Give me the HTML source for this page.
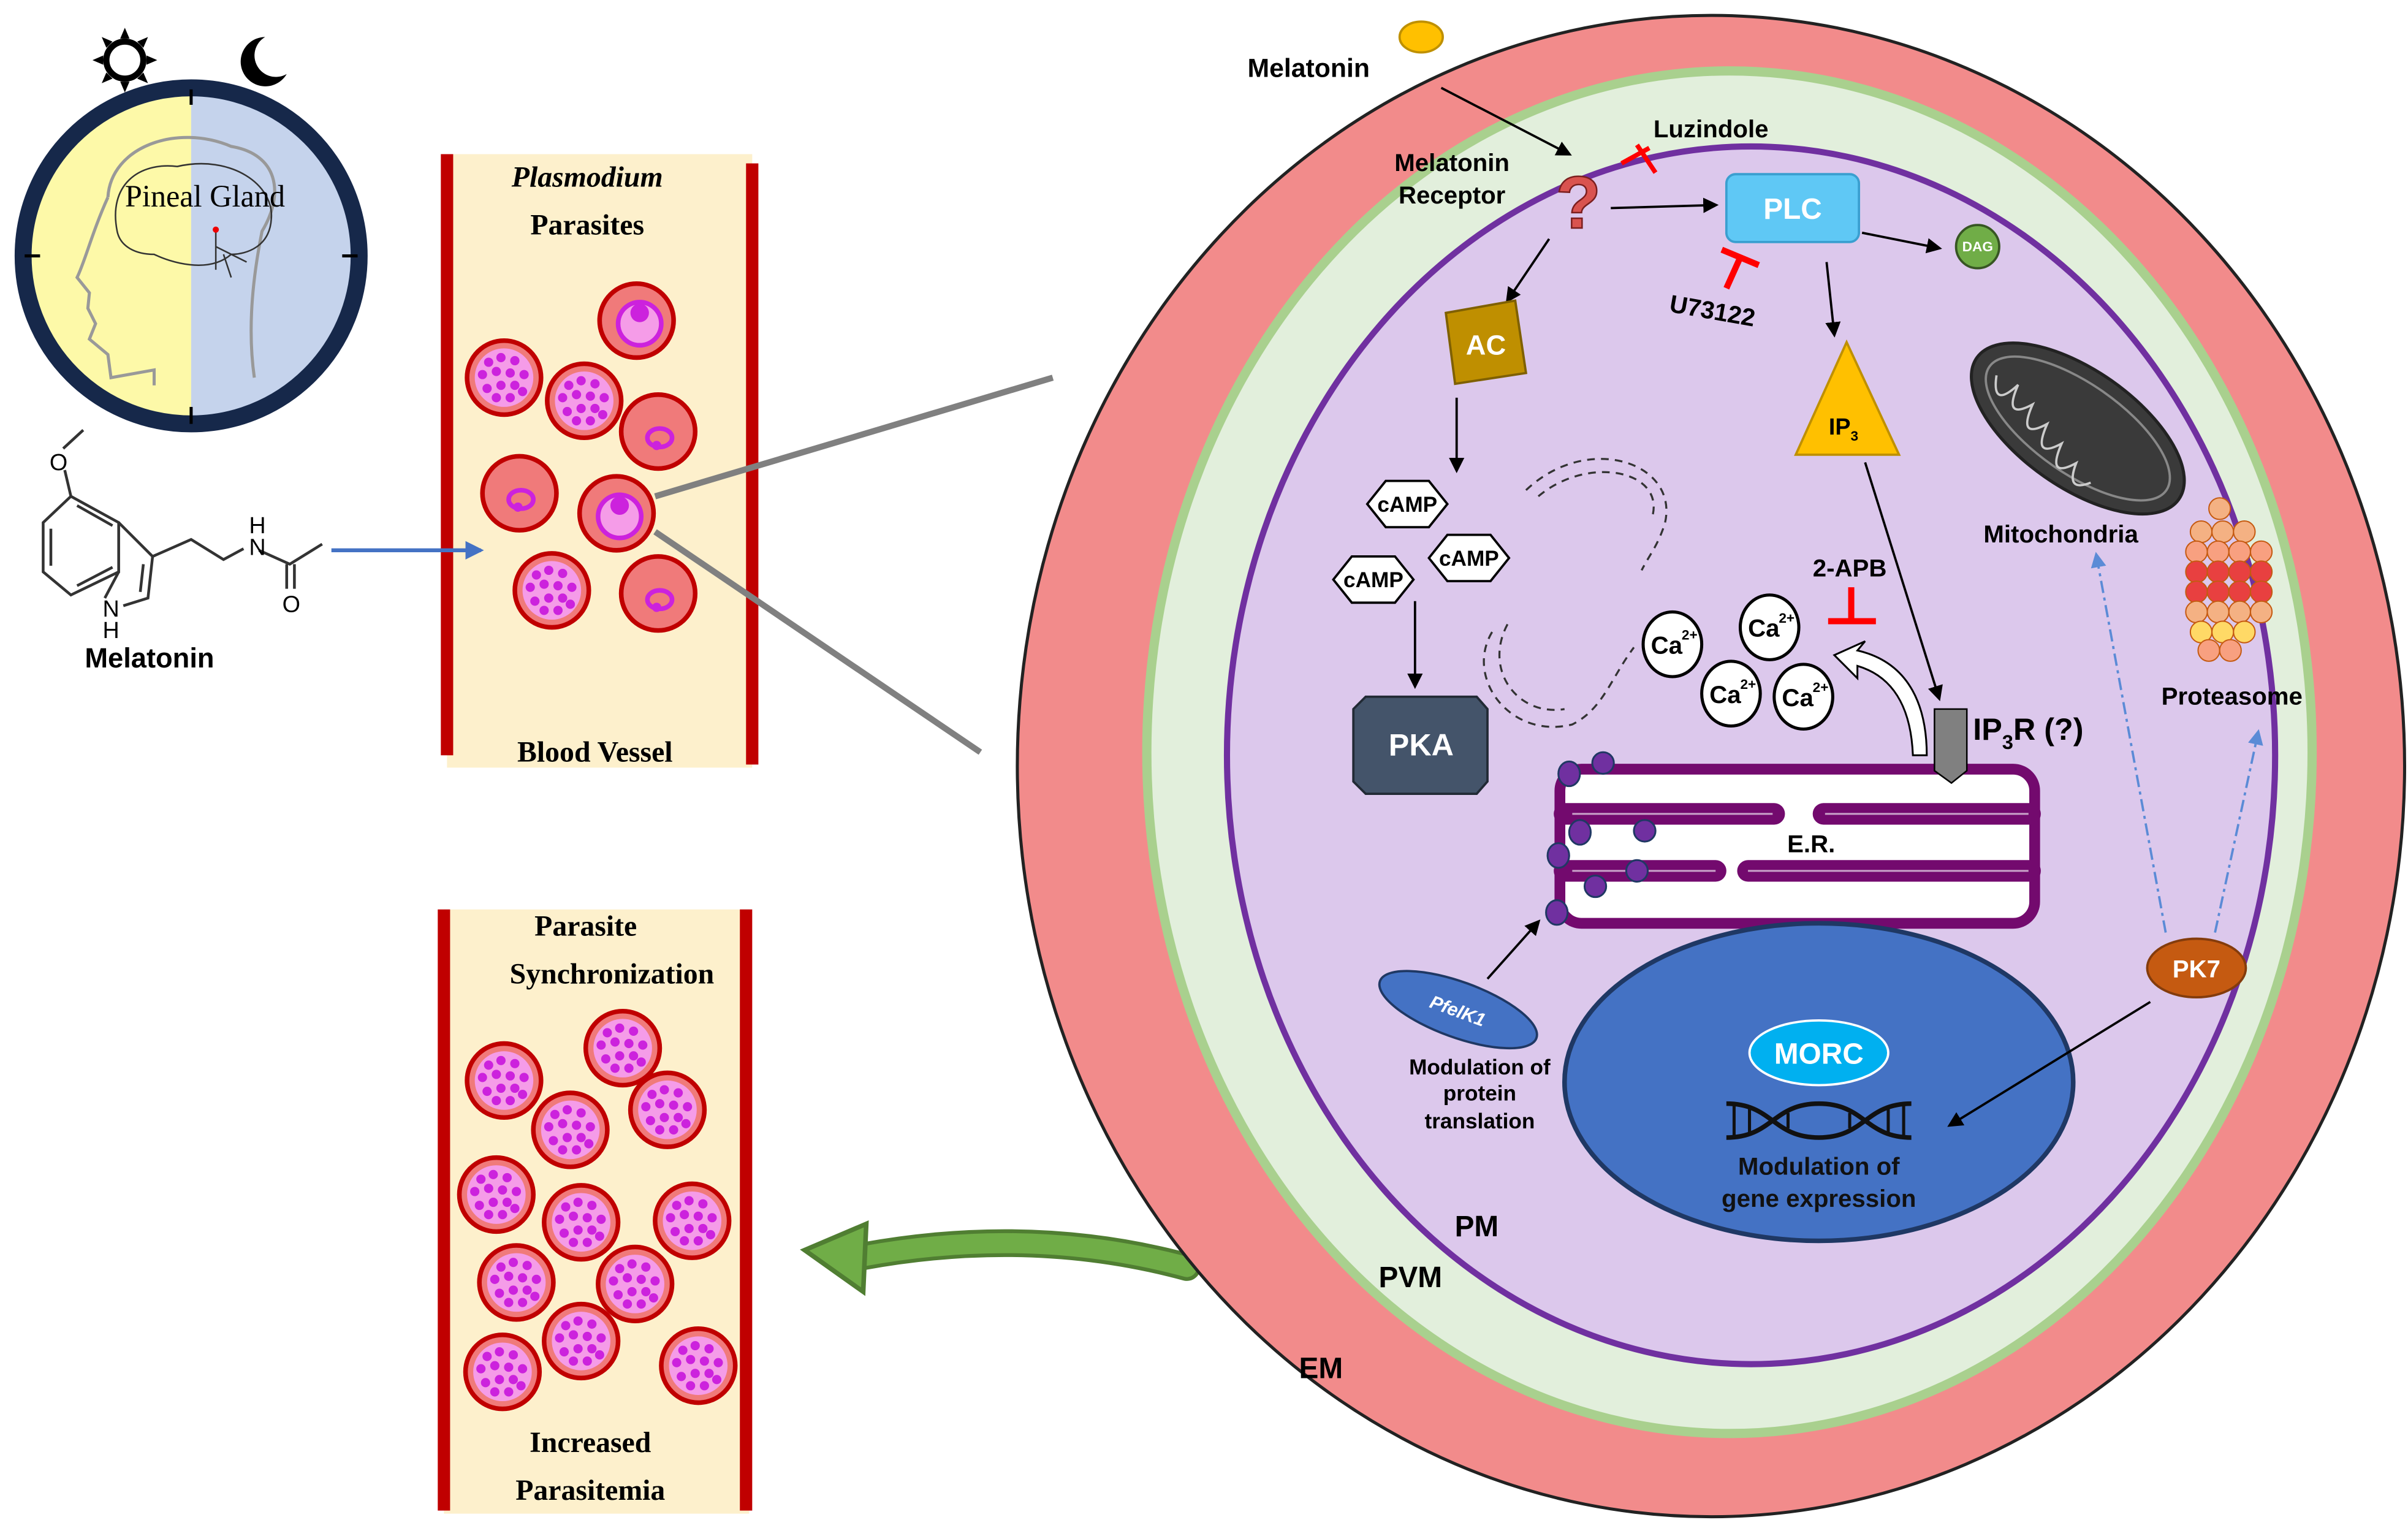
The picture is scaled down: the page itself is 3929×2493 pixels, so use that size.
<!DOCTYPE html>
<html><head><meta charset="utf-8"><style>
html,body{margin:0;padding:0;background:#fff}
svg{display:block}
text{font-family:"Liberation Sans",sans-serif}
text.s{font-family:"Liberation Serif",serif;font-weight:bold}
text.sr{font-family:"Liberation Serif",serif}
.b{font-weight:bold}
</style></head><body>
<svg width="3929" height="2493" viewBox="0 0 1562.2 991.3" preserveAspectRatio="none" xmlns="http://www.w3.org/2000/svg">
<defs>
<marker id="ar" markerWidth="10" markerHeight="10" refX="8" refY="5" orient="auto" markerUnits="userSpaceOnUse"><path d="M0,0 L10,5 L0,10 z" fill="#000"/></marker>
<marker id="ab" markerWidth="12" markerHeight="12" refX="10" refY="6" orient="auto" markerUnits="userSpaceOnUse"><path d="M0,0 L12,6 L0,12 z" fill="#4472c4"/></marker>
<marker id="ad" markerWidth="10" markerHeight="10" refX="8" refY="5" orient="auto" markerUnits="userSpaceOnUse"><path d="M0,0 L10,5 L0,10 z" fill="#5b8bd6"/></marker>
<g id="rd"><circle r="24" fill="#f07a7a" stroke="#c00000" stroke-width="3"/><circle r="19" fill="#f59ce8"/>
<g fill="#cc22dd"><circle cx="-10" cy="-10" r="3"/><circle cx="-2" cy="-13" r="3"/><circle cx="7" cy="-11" r="3"/><circle cx="-14" cy="-2" r="3"/><circle cx="-5" cy="-4" r="3"/><circle cx="4" cy="-3" r="3"/><circle cx="13" cy="-2" r="3"/><circle cx="-11" cy="7" r="3"/><circle cx="-2" cy="5" r="3"/><circle cx="7" cy="5" r="3"/><circle cx="-5" cy="13" r="3"/><circle cx="4" cy="13" r="3"/><circle cx="12" cy="9" r="3"/></g></g>
<g id="rb"><circle r="24" fill="#f07a7a" stroke="#c00000" stroke-width="3"/><circle cx="2" cy="2" r="14" fill="#f59ce8" stroke="#cc22dd" stroke-width="3"/><circle cx="2" cy="-5" r="6" fill="#cc22dd"/></g>
<g id="rs"><circle r="24" fill="#f07a7a" stroke="#c00000" stroke-width="3"/><ellipse cx="1" cy="4" rx="8" ry="6" fill="none" stroke="#cc22dd" stroke-width="3"/><circle cx="-1" cy="9" r="3" fill="#cc22dd"/></g>
<g id="ca"><ellipse rx="19" ry="21" fill="#fff" stroke="#000" stroke-width="2"/><text x="-14" y="6" font-size="16" class="b">Ca</text><text x="6" y="-3" font-size="9" class="b">2+</text></g>
<g id="camp"><polygon points="-26,0 -14,-15 14,-15 26,0 14,15 -14,15" fill="#fff" stroke="#000" stroke-width="1.5"/><text x="0" y="5" font-size="14" text-anchor="middle" class="b">cAMP</text></g>
</defs>

<!-- clock -->
<path d="M124,57 A109,109 0 0 0 124,275 z" fill="#fdf9a8"/>
<path d="M124,57 A109,109 0 0 1 124,275 z" fill="#c5d3ec"/>
<circle cx="124" cy="166" r="109" fill="none" stroke="#16284a" stroke-width="11"/>
<g stroke="#000" stroke-width="2"><line x1="124" y1="58" x2="124" y2="68"/><line x1="124" y1="264" x2="124" y2="275"/><line x1="16" y1="166" x2="26" y2="166"/><line x1="222" y1="166" x2="232" y2="166"/></g>
<path d="M70,128 C72,95 115,80 150,95 C180,100 185,125 170,150 C165,175 160,210 165,245" fill="none" stroke="#999" stroke-width="2"/>
<path d="M70,128 C60,150 55,170 50,180 L58,190 L57,200 L62,210 L58,220 L70,230 L72,245 L100,240 L100,250" fill="none" stroke="#999" stroke-width="2"/>
<path d="M76,150 C70,120 90,105 115,108 C150,100 178,120 176,142 C175,160 160,165 150,165 C135,178 110,170 100,165 C88,165 78,160 76,150 z" fill="none" stroke="#333" stroke-width="1"/>
<path d="M140,160 L160,170 M145,165 L150,180 M140,150 L140,175" stroke="#333" stroke-width="1"/>
<circle cx="140" cy="149" r="2" fill="#e00"/>
<text x="133" y="134" font-size="20" text-anchor="middle" class="sr">Pineal Gland</text>
<g transform="translate(81,39)"><circle r="12" fill="#fff" stroke="#000" stroke-width="4"/>
<g fill="#000"><polygon points="-3,-14 3,-14 0,-21"/><polygon points="-3,14 3,14 0,21"/><polygon points="-14,-3 -14,3 -21,0"/><polygon points="14,-3 14,3 21,0"/><polygon points="8,-12 12,-8 15,-15"/><polygon points="-8,-12 -12,-8 -15,-15"/><polygon points="8,12 12,8 15,15"/><polygon points="-8,12 -12,8 -15,15"/></g></g>
<path d="M172,24 A16,16 0 1 0 186,48 A13,13 0 1 1 172,24 z" fill="#000"/>

<!-- melatonin structure -->
<g stroke="#333" stroke-width="1.8" fill="none">
<path d="M54,279 L41,291"/><path d="M42,305 L46,322"/>
<polygon points="46,322 77,339 77,371 46,386 28,371 28,339"/>
<path d="M33,343 L33,367 M50,328 L73,341 M50,380 L73,368"/>
<path d="M77,339 L99,361 L96,388 L80,393 M68,388 L77,371 M93,366 L91,384"/>
<path d="M99,361 L124,350 L145,363 L158,356 M168,357 L188,366 L209,353 M186,366 L186,382 M191,366 L191,382"/>
</g>
<text x="38" y="305" font-size="15" text-anchor="middle">O</text>
<text x="72" y="400" font-size="15" text-anchor="middle">N</text>
<text x="72" y="414" font-size="15" text-anchor="middle">H</text>
<text x="167" y="360" font-size="15" text-anchor="middle">N</text>
<text x="167" y="346" font-size="15" text-anchor="middle">H</text>
<text x="189" y="397" font-size="15" text-anchor="middle">O</text>
<text x="97" y="433" font-size="18" class="b" text-anchor="middle">Melatonin</text>

<!-- top vessel -->
<rect x="290" y="100" width="198" height="398" fill="#fdf0cc"/>
<rect x="286" y="100" width="8" height="390" fill="#c00000"/>
<rect x="484" y="106" width="8" height="390" fill="#c00000"/>
<text x="381" y="121" font-size="19" class="s" font-style="italic" text-anchor="middle">Plasmodium</text>
<text x="381" y="152" font-size="19" class="s" text-anchor="middle">Parasites</text>
<text x="386" y="494" font-size="19" class="s" text-anchor="middle">Blood Vessel</text>
<use href="#rb" x="413" y="208"/><use href="#rd" x="327" y="245"/><use href="#rd" x="379" y="260"/>
<use href="#rs" x="427" y="280"/><use href="#rs" x="337" y="320"/><use href="#rb" x="400" y="333"/>
<use href="#rd" x="358" y="383"/><use href="#rs" x="427" y="385"/>
<line x1="215" y1="357" x2="312" y2="357" stroke="#4472c4" stroke-width="2.5" marker-end="url(#ab)"/>
<line x1="425" y1="322" x2="683" y2="245" stroke="#808080" stroke-width="4"/>
<line x1="425" y1="345" x2="636" y2="488" stroke="#808080" stroke-width="4"/>

<!-- bottom vessel -->
<rect x="288" y="590" width="198" height="392" fill="#fdf0cc"/>
<rect x="284" y="590" width="8" height="390" fill="#c00000"/>
<rect x="480" y="590" width="8" height="390" fill="#c00000"/>
<text x="380" y="607" font-size="19" class="s" text-anchor="middle">Parasite</text>
<text x="397" y="638" font-size="19" class="s" text-anchor="middle">Synchronization</text>
<text x="383" y="942" font-size="19" class="s" text-anchor="middle">Increased</text>
<text x="383" y="973" font-size="19" class="s" text-anchor="middle">Parasitemia</text>
<use href="#rd" x="404" y="680"/><use href="#rd" x="327" y="701"/><use href="#rd" x="433" y="720"/><use href="#rd" x="370" y="733"/>
<use href="#rd" x="322" y="775"/><use href="#rd" x="377" y="793"/><use href="#rd" x="449" y="792"/><use href="#rd" x="335" y="832"/>
<use href="#rd" x="412" y="833"/><use href="#rd" x="377" y="870"/><use href="#rd" x="326" y="890"/><use href="#rd" x="453" y="886"/>

<!-- green arrow -->
<path d="M770,822 Q670,795 560,815" fill="none" stroke="#507e32" stroke-width="18" stroke-linecap="round"/>
<path d="M770,822 Q670,795 560,815" fill="none" stroke="#70ad47" stroke-width="13" stroke-linecap="round"/>
<polygon points="522,811 562,794 560,838" fill="#70ad47" stroke="#507e32" stroke-width="3"/>

<!-- cell -->
<ellipse cx="1110" cy="497" rx="450" ry="487" fill="#f28b8b" stroke="#222" stroke-width="2"/>
<ellipse cx="1122" cy="488" rx="378" ry="442" fill="#e2efdc" stroke="#a9d08e" stroke-width="6"/>
<ellipse cx="1136" cy="490" rx="340" ry="395" fill="#dcc8ec" stroke="#7030a0" stroke-width="4"/>
<text x="857" y="894" font-size="19" class="b" text-anchor="middle">EM</text>
<text x="915" y="835" font-size="19" class="b" text-anchor="middle">PVM</text>
<text x="958" y="802" font-size="19" class="b" text-anchor="middle">PM</text>

<!-- top signaling -->
<ellipse cx="922" cy="24" rx="14" ry="10" fill="#ffc000" stroke="#bf9000" stroke-width="1.5"/>
<text x="849" y="50" font-size="17" class="b" text-anchor="middle">Melatonin</text>
<line x1="935" y1="57" x2="1018" y2="100" stroke="#000" stroke-width="1.5" marker-end="url(#ar)"/>
<text x="1110" y="89" font-size="16" class="b" text-anchor="middle">Luzindole</text>
<path d="M1070,96 L1052,106 M1062,94 L1074,112" stroke="#f00" stroke-width="3"/>
<text x="942" y="111" font-size="16" class="b" text-anchor="middle">Melatonin</text>
<text x="942" y="132" font-size="16" class="b" text-anchor="middle">Receptor</text>
<text x="1024" y="148" font-size="48" class="b" text-anchor="middle" fill="#d9534f" stroke="#7b1f1f" stroke-width="1">?</text>
<line x1="1045" y1="135" x2="1113" y2="133" stroke="#000" stroke-width="1.5" marker-end="url(#ar)"/>
<rect x="1120" y="113" width="86" height="44" rx="6" fill="#5fc8f5" stroke="#3a9fd0" stroke-width="1.5"/>
<text x="1163" y="142" font-size="19" class="b" fill="#fff" text-anchor="middle">PLC</text>
<line x1="1208" y1="151" x2="1258" y2="161" stroke="#000" stroke-width="1.5" marker-end="url(#ar)"/>
<circle cx="1283" cy="160" r="14" fill="#70ad47" stroke="#375623" stroke-width="1.5"/>
<text x="1283" y="163" font-size="9" class="b" fill="#fff" text-anchor="middle">DAG</text>
<path d="M1117,162 L1141,172 M1129,167 L1120,187" stroke="#f00" stroke-width="4"/>
<text x="1110" y="207" font-size="16" class="b" text-anchor="middle" transform="rotate(10 1110 207)">U73122</text>
<line x1="1185" y1="170" x2="1190" y2="217" stroke="#000" stroke-width="1.5" marker-end="url(#ar)"/>
<polygon points="1198,222 1232,295 1165,295" fill="#ffc000" stroke="#bf9000" stroke-width="1.5"/>
<text x="1196" y="282" font-size="15" class="b" text-anchor="middle">IP<tspan font-size="9" dy="4">3</tspan></text>
<line x1="1005" y1="155" x2="978" y2="195" stroke="#000" stroke-width="1.5" marker-end="url(#ar)"/>
<polygon points="938,203 983,195 990,242 944,249" fill="#bf8f00" stroke="#7f6000" stroke-width="1.5"/>
<text x="964" y="230" font-size="18" class="b" fill="#fff" text-anchor="middle">AC</text>
<line x1="945" y1="258" x2="945" y2="305" stroke="#000" stroke-width="1.5" marker-end="url(#ar)"/>
<use href="#camp" x="913" y="327"/><use href="#camp" x="953" y="362"/><use href="#camp" x="891" y="376"/>
<line x1="918" y1="390" x2="918" y2="445" stroke="#000" stroke-width="1.5" marker-end="url(#ar)"/>
<polygon points="886,452 958,452 965,460 965,507 958,515 886,515 878,507 878,460" fill="#44546a" stroke="#222a35" stroke-width="1.5"/>
<text x="922" y="490" font-size="20" class="b" fill="#fff" text-anchor="middle">PKA</text>

<!-- dashed curves -->
<g fill="none" stroke="#333" stroke-width="1.3" stroke-dasharray="5,4">
<path d="M990,318 C1030,280 1090,300 1080,340 C1075,355 1070,360 1065,370"/>
<path d="M998,322 C1030,295 1080,305 1072,335"/>
<path d="M968,410 C950,440 980,480 1020,470 C1040,460 1045,440 1060,420"/>
<path d="M978,405 C962,435 985,465 1015,460"/>
</g>

<!-- Ca -->
<use href="#ca" x="1085" y="418"/><use href="#ca" x="1148" y="407"/><use href="#ca" x="1123" y="450"/><use href="#ca" x="1170" y="452"/>
<text x="1200" y="374" font-size="16" class="b" text-anchor="middle">2-APB</text>
<path d="M1201,381 L1201,403 M1186,403 L1217,403" stroke="#f00" stroke-width="4"/>
<path d="M1250,490 C1250,460 1240,430 1205,422 L1210,416 L1190,425 L1205,440 L1205,432 C1232,440 1240,465 1241,490 z" fill="#fff" stroke="#000" stroke-width="1.2"/>
<line x1="1210" y1="300" x2="1258" y2="453" stroke="#000" stroke-width="1.5" marker-end="url(#ar)"/>

<!-- ER -->
<rect x="1012" y="499" width="308" height="100" rx="14" fill="#fff" stroke="#730a6e" stroke-width="7"/>
<g fill="#730a6e">
<rect x="1008" y="521" width="150" height="14" rx="7"/>
<rect x="1176" y="521" width="148" height="14" rx="7"/>
<rect x="1008" y="558" width="112" height="14" rx="7"/>
<rect x="1127" y="558" width="197" height="14" rx="7"/>
</g>
<g stroke="#c9a3c9" stroke-width="1.2"><line x1="1020" y1="528" x2="1150" y2="528"/><line x1="1184" y1="528" x2="1316" y2="528"/><line x1="1020" y1="565" x2="1113" y2="565"/><line x1="1134" y1="565" x2="1316" y2="565"/></g>
<text x="1175" y="553" font-size="16" class="b" text-anchor="middle">E.R.</text>
<g fill="#7030a0" stroke="#203864" stroke-width="1.2">
<ellipse cx="1018" cy="502" rx="7" ry="8"/><ellipse cx="1040" cy="495" rx="7" ry="7"/><ellipse cx="1025" cy="540" rx="7" ry="8"/><ellipse cx="1067" cy="539" rx="7" ry="7"/>
<ellipse cx="1011" cy="555" rx="7" ry="8"/><ellipse cx="1062" cy="565" rx="7" ry="7"/><ellipse cx="1035" cy="575" rx="7" ry="7"/><ellipse cx="1010" cy="592" rx="7" ry="8"/></g>
<polygon points="1255,460 1276,460 1276,500 1266,508 1255,500" fill="#808080" stroke="#000" stroke-width="1"/>
<text x="1280" y="480" font-size="20" class="b">IP<tspan font-size="13" dy="6">3</tspan><tspan dy="-6">R (?)</tspan></text>

<!-- nucleus -->
<ellipse cx="1180" cy="702" rx="165" ry="103" fill="#4472c4" stroke="#1f3864" stroke-width="3"/>
<ellipse cx="1180" cy="683" rx="45" ry="21" fill="#00b0f0" stroke="#fff" stroke-width="1.5"/>
<text x="1180" y="690" font-size="19" class="b" fill="#fff" text-anchor="middle">MORC</text>
<g stroke="#111" stroke-width="3" fill="none">
<path d="M1120,716 C1150,716 1150,738 1180,738 C1210,738 1210,716 1240,716"/>
<path d="M1120,738 C1150,738 1150,716 1180,716 C1210,716 1210,738 1240,738"/>
<path d="M1125,716 L1125,738 M1135,718 L1135,736 M1160,722 L1160,732 M1200,722 L1200,732 M1225,718 L1225,736 M1235,716 L1235,738" stroke-width="2"/></g>
<text x="1180" y="762" font-size="16" class="b" fill="#111" text-anchor="middle">Modulation of</text>
<text x="1180" y="783" font-size="16" class="b" fill="#111" text-anchor="middle">gene expression</text>

<!-- PfelK1 -->
<ellipse cx="946" cy="655" rx="54" ry="18" transform="rotate(20 946 655)" fill="#4472c4" stroke="#1f3864" stroke-width="1.5"/>
<text x="946" y="660" font-size="12" class="b" fill="#fff" text-anchor="middle" font-style="italic" transform="rotate(20 946 655)">PfelK1</text>
<line x1="965" y1="635" x2="998" y2="598" stroke="#000" stroke-width="1.5" marker-end="url(#ar)"/>
<text x="960" y="697" font-size="14" class="b" text-anchor="middle">Modulation of</text>
<text x="960" y="714" font-size="14" class="b" text-anchor="middle">protein</text>
<text x="960" y="732" font-size="14" class="b" text-anchor="middle">translation</text>

<!-- mitochondria -->
<ellipse cx="1348" cy="278" rx="80" ry="38" transform="rotate(35 1348 278)" fill="#3a3a3a" stroke="#222" stroke-width="2"/>
<ellipse cx="1348" cy="278" rx="70" ry="29" transform="rotate(35 1348 278)" fill="none" stroke="#888" stroke-width="1.5"/>
<path d="M1300,240 q10,20 15,-3 q5,25 15,5 q5,25 15,5 q5,25 15,5 q5,25 15,5 q5,20 15,5" fill="none" stroke="#ccc" stroke-width="1.5" transform="rotate(35 1348 278) translate(-15,40)"/>
<text x="1337" y="352" font-size="16" class="b" text-anchor="middle">Mitochondria</text>
<!-- proteasome -->
<g stroke="#c55a11" stroke-width="0.8">
<g fill="#f4b183"><circle cx="1440" cy="330" r="7"/><circle cx="1428" cy="345" r="7"/><circle cx="1442" cy="345" r="7"/><circle cx="1456" cy="345" r="7"/></g>
<g fill="#f8a080"><circle cx="1425" cy="358" r="7"/><circle cx="1439" cy="358" r="7"/><circle cx="1453" cy="358" r="7"/><circle cx="1467" cy="358" r="7"/></g>
<g fill="#e84040"><circle cx="1425" cy="371" r="7"/><circle cx="1439" cy="371" r="7"/><circle cx="1453" cy="371" r="7"/><circle cx="1467" cy="371" r="7"/><circle cx="1425" cy="384" r="7"/><circle cx="1439" cy="384" r="7"/><circle cx="1453" cy="384" r="7"/><circle cx="1467" cy="384" r="7"/></g>
<g fill="#f4b183"><circle cx="1425" cy="397" r="7"/><circle cx="1439" cy="397" r="7"/><circle cx="1453" cy="397" r="7"/><circle cx="1467" cy="397" r="7"/></g>
<g fill="#ffd966"><circle cx="1428" cy="410" r="7"/><circle cx="1442" cy="410" r="7"/><circle cx="1456" cy="410" r="7"/></g>
<g fill="#f8a080"><circle cx="1433" cy="422" r="7"/><circle cx="1447" cy="422" r="7"/></g></g>
<text x="1448" y="457" font-size="16" class="b" text-anchor="middle">Proteasome</text>

<!-- PK7 -->
<ellipse cx="1425" cy="628" rx="32" ry="19" fill="#c55a11" stroke="#843c0c" stroke-width="1.5"/>
<text x="1425" y="634" font-size="16" class="b" fill="#fff" text-anchor="middle">PK7</text>
<line x1="1395" y1="650" x2="1265" y2="730" stroke="#000" stroke-width="1.5" marker-end="url(#ar)"/>
<g stroke="#5b8bd6" stroke-width="1.5" stroke-dasharray="8,3,2,3" fill="none">
<line x1="1405" y1="605" x2="1360" y2="360" marker-end="url(#ad)"/>
<line x1="1437" y1="605" x2="1465" y2="475" marker-end="url(#ad)"/></g>
</svg>
</body></html>
